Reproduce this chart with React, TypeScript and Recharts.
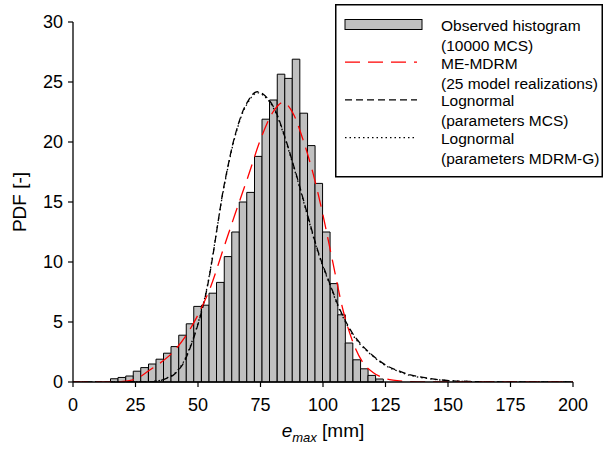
import React from 'react';
import { ComposedChart, Line, XAxis, YAxis, ReferenceArea, Legend, Label } from 'recharts';

const FONT = '"Liberation Sans", Arial, Helvetica, sans-serif';

// Histogram (10000 MCS): bin lower edges [mm] and PDF heights
const binLeft = [
  15.0, 18.0, 21.1, 24.1, 27.1, 30.2, 33.2, 36.2, 39.2, 42.3, 45.3, 48.3,
  51.4, 54.4, 57.4, 60.5, 63.5, 66.5, 69.5, 72.6, 75.6, 78.6, 81.7, 84.7,
  87.7, 90.8, 93.8, 96.8, 99.8, 102.9, 105.9, 108.9, 112.0, 115.0, 118.0, 121.1,
];
const binWidth = 3.03;
const binHeight = [
  0.27, 0.38, 0.5, 0.9, 1.2, 1.5, 1.9, 2.4, 2.95, 3.9, 4.85, 6.3,
  6.4, 7.4, 8.3, 10.45, 12.5, 15.0, 15.8, 18.8, 21.9, 23.5, 25.65, 25.3,
  26.9, 22.4, 19.7, 16.55, 12.5, 8.2, 5.6, 3.25, 1.85, 1.1, 0.55, 0.25,
];

// ME-MDRM (25 model realizations)
const memdrmX = [0, 15, 20, 25, 27, 30, 35, 40, 45, 50, 55, 60, 65, 70, 75, 80, 84, 88, 92, 96, 100, 104, 108, 112, 116, 120, 124, 128, 134, 140, 200];
const memdrmY = [0, 0, 0.05, 0.25, 0.45, 0.9, 1.6, 2.5, 3.8, 5.6, 7.9, 11.0, 14.1, 17.1, 20.2, 22.5, 23.3, 22.4, 20.2, 17.4, 13.9, 9.9, 6.0, 3.3, 1.6, 0.8, 0.35, 0.15, 0.05, 0, 0];

// Lognormal (parameters MCS)
const lnMcsX = [0, 30, 35, 38, 40, 42, 44, 46, 48, 50, 52, 54, 56, 58, 60, 62, 64, 66, 68, 70, 72, 74, 76, 78, 80, 82, 84, 86, 88, 90, 92, 94, 96, 98, 100, 102, 104, 106, 108, 110, 112, 115, 118, 122, 126, 130, 134, 140, 146, 152, 160, 170, 200];
const lnMcsY = [0, 0.02, 0.12, 0.35, 0.55, 0.95, 1.5, 2.4, 3.5, 4.8, 6.3, 8.2, 10.6, 13.3, 15.9, 18.0, 19.9, 21.4, 22.6, 23.4, 24.0, 24.2, 24.0, 23.6, 23.0, 22.1, 20.9, 19.6, 18.2, 16.8, 15.3, 13.8, 12.3, 10.9, 9.7, 8.6, 7.5, 6.4, 5.5, 4.7, 4.0, 3.2, 2.55, 1.85, 1.3, 0.95, 0.65, 0.38, 0.2, 0.1, 0.04, 0, 0];

// Lognormal (parameters MDRM-G)
const lnMdrmX = [0, 30, 35, 38, 40, 42, 44, 46, 48, 50, 52, 54, 56, 58, 60, 62, 64, 66, 68, 70, 72, 74, 76, 78, 80, 82, 84, 86, 88, 90, 92, 94, 96, 98, 100, 102, 104, 106, 108, 110, 112, 115, 118, 122, 126, 130, 134, 140, 146, 152, 160, 170, 200];
const lnMdrmY = [0, 0.03, 0.14, 0.38, 0.6, 1.0, 1.6, 2.5, 3.6, 4.9, 6.4, 8.3, 10.7, 13.3, 15.8, 17.9, 19.8, 21.3, 22.5, 23.3, 23.9, 24.1, 23.9, 23.5, 22.9, 22.0, 20.8, 19.5, 18.1, 16.7, 15.2, 13.7, 12.2, 10.8, 9.6, 8.5, 7.4, 6.3, 5.4, 4.6, 3.9, 3.1, 2.5, 1.8, 1.25, 0.9, 0.6, 0.35, 0.18, 0.09, 0.03, 0, 0];

const xTicks = [0, 25, 50, 75, 100, 125, 150, 175, 200];
const yTicks = [0, 5, 10, 15, 20, 25, 30];

const legendItems = [
  { kind: 'hist', line1: 'Observed histogram', line2: '(10000 MCS)' },
  { kind: 'red', line1: 'ME-MDRM', line2: '(25 model realizations)' },
  { kind: 'dash', line1: 'Lognormal', line2: '(parameters MCS)' },
  { kind: 'dot', line1: 'Lognormal', line2: '(parameters MDRM-G)' },
];

const toPoints = (xs: number[], ys: number[]) => xs.map((x, i) => ({ x, y: ys[i] }));
const memdrm = toPoints(memdrmX, memdrmY);
const lnMcs = toPoints(lnMcsX, lnMcsY);
const lnMdrm = toPoints(lnMdrmX, lnMdrmY);

const LegendBox = () => (
  <svg width={268} height={174} style={{ display: 'block', overflow: 'visible' }}>
    <rect x={0.75} y={0.75} width={266.5} height={172} fill="#fff" stroke="#000" strokeWidth={1.5} />
    {legendItems.map((it, i) => {
      const cy = 20.5 + i * 37.7;
      let sw: React.ReactNode = null;
      if (it.kind === 'hist') sw = <rect x={10} y={cy - 5} width={77} height={10} fill="#c0c0c0" stroke="#000" strokeWidth={1} />;
      if (it.kind === 'red') sw = <line x1={10} x2={82} y1={cy} y2={cy} stroke="#ff0000" strokeWidth={1.3} strokeDasharray="15 8" />;
      if (it.kind === 'dash') sw = <line x1={10} x2={82} y1={cy} y2={cy} stroke="#000" strokeWidth={1.3} strokeDasharray="7 4" />;
      if (it.kind === 'dot') sw = <line x1={10} x2={82} y1={cy} y2={cy} stroke="#000" strokeWidth={1.3} strokeDasharray="1.5 3" />;
      return (
        <g key={i}>
          {sw}
          <text x={106} y={cy + 1} dy="0.35em" fontSize={15.5} fontFamily={FONT} fill="#000">{it.line1}</text>
          <text x={106} y={cy + 21} dy="0.35em" fontSize={15.5} fontFamily={FONT} fill="#000">{it.line2}</text>
        </g>
      );
    })}
  </svg>
);

const XLabel = (props: any) => {
  const vb = props.viewBox || {};
  const cx = vb.x + vb.width / 2;
  const y = vb.y + 55;
  return (
    <text x={cx} y={y} textAnchor="middle" fontFamily={FONT} fontSize={19} fill="#000">
      <tspan fontStyle="italic">e</tspan>
      <tspan fontStyle="italic" fontSize={13} dy={5}>max</tspan>
      <tspan dy={-5}> [mm]</tspan>
    </text>
  );
};

const YLabel = (props: any) => {
  const vb = props.viewBox || {};
  const cy = vb.y + vb.height / 2;
  return (
    <text x={19} y={cy} textAnchor="middle" dominantBaseline="central" transform={`rotate(-90, 19, ${cy})`} fontFamily={FONT} fontSize={19} fill="#000">
      PDF [-]
    </text>
  );
};

export default function App() {
  return (
    <div style={{ position: 'absolute', left: 0, top: 0, width: 604, height: 454, background: '#fff' }}>
      <ComposedChart width={604} height={454} margin={{ top: 22, right: 31, bottom: 0, left: 0 }}>
        <XAxis
          type="number"
          dataKey="x"
          domain={[0, 200]}
          ticks={xTicks}
          interval={0}
          allowDataOverflow
          height={72}
          tickSize={5}
          tickMargin={11}
          axisLine={{ stroke: '#000', strokeWidth: 1.3 }}
          tickLine={{ stroke: '#000', strokeWidth: 1.2 }}
          tick={{ fill: '#000', fontSize: 18, fontFamily: FONT }}
        >
          <Label content={XLabel} />
        </XAxis>
        <YAxis
          type="number"
          domain={[0, 30]}
          ticks={yTicks}
          interval={0}
          allowDataOverflow
          width={73}
          tickSize={5}
          tickMargin={5}
          axisLine={{ stroke: '#000', strokeWidth: 1.3 }}
          tickLine={{ stroke: '#000', strokeWidth: 1.2 }}
          tick={{ fill: '#000', fontSize: 18, fontFamily: FONT }}
        >
          <Label content={YLabel} />
        </YAxis>
        {binLeft.map((x0, i) => (
          <ReferenceArea
            key={i}
            x1={x0}
            x2={x0 + binWidth}
            y1={0}
            y2={binHeight[i]}
            fill="#c0c0c0"
            fillOpacity={1}
            stroke="#000"
            strokeWidth={1}
            ifOverflow="visible"
          />
        ))}
        <Line data={lnMdrm} dataKey="y" type="monotone" stroke="#000" strokeWidth={1.3} strokeDasharray="1.5 3" dot={false} isAnimationActive={false} />
        <Line data={lnMcs} dataKey="y" type="monotone" stroke="#000" strokeWidth={1.3} strokeDasharray="7 4" dot={false} isAnimationActive={false} />
        <Line data={memdrm} dataKey="y" type="monotone" stroke="#ff0000" strokeWidth={1.3} strokeDasharray="15 8" dot={false} isAnimationActive={false} />
        <Legend
          content={LegendBox}
          layout="vertical"
          align="center"
          verticalAlign="middle"
          wrapperStyle={{ left: 335, top: 4, width: 268, height: 174, margin: 0, padding: 0 }}
        />
      </ComposedChart>
    </div>
  );
}
